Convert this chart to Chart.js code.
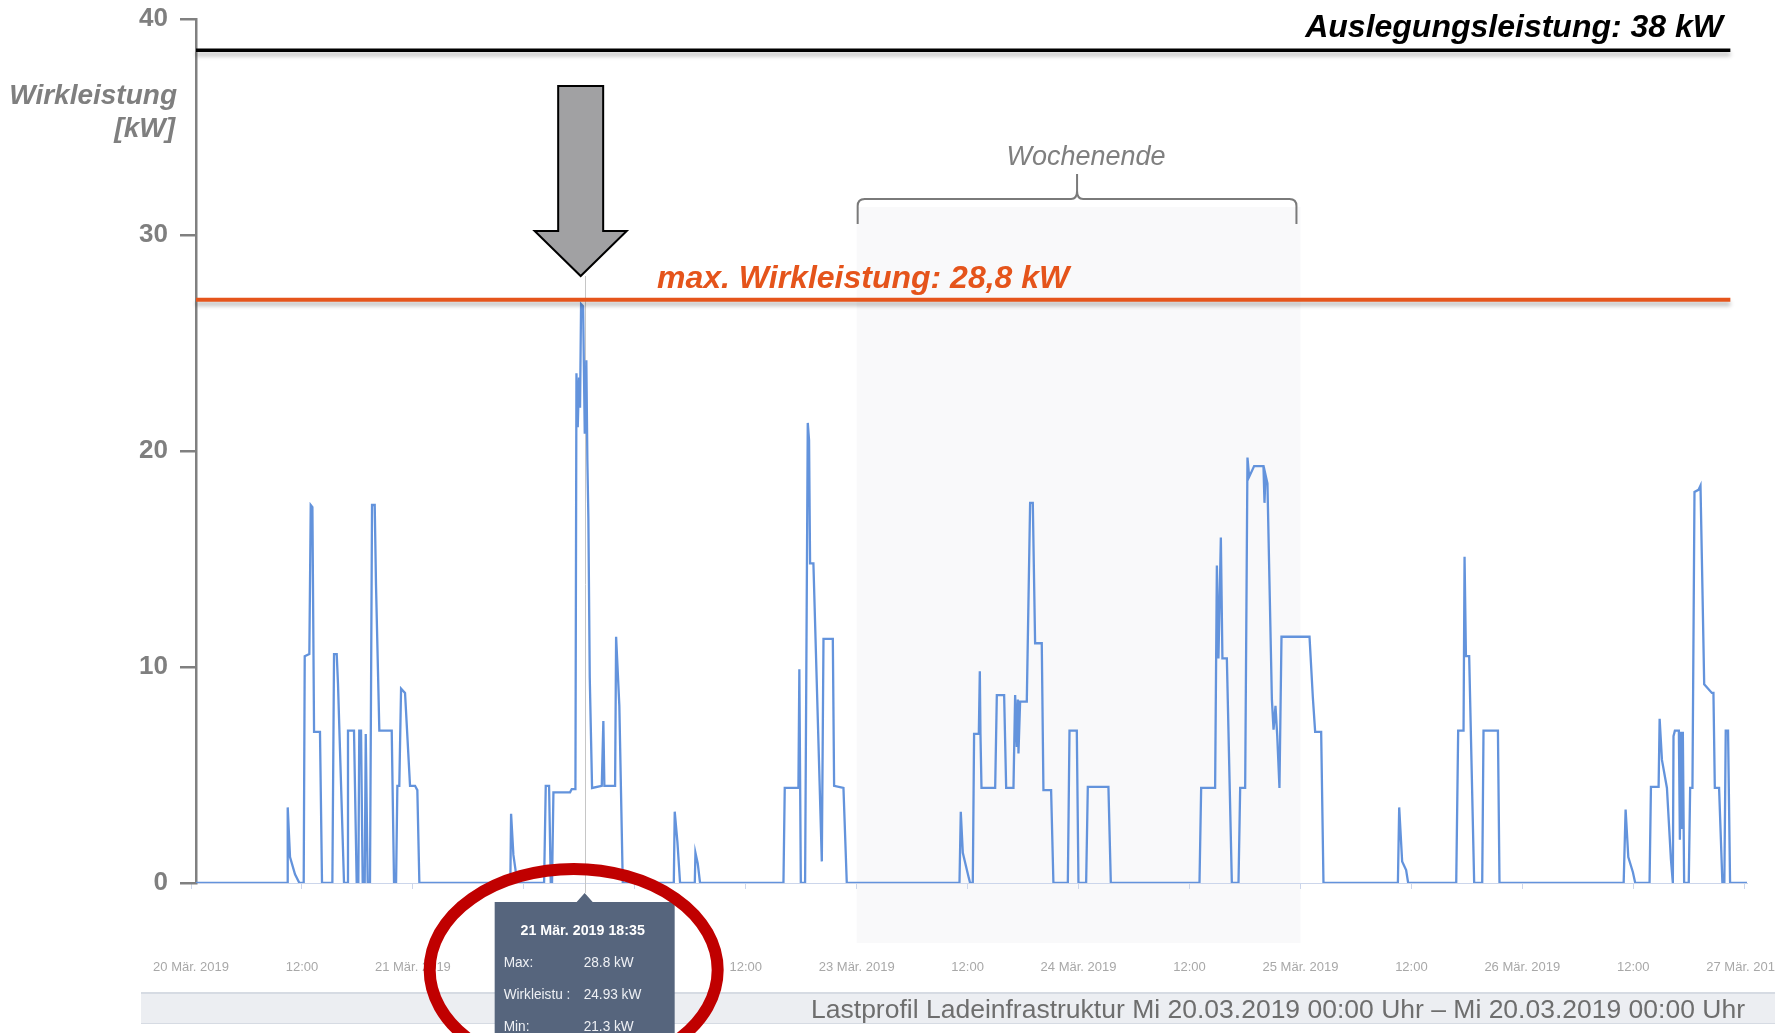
<!DOCTYPE html>
<html>
<head>
<meta charset="utf-8">
<title>Lastprofil Ladeinfrastruktur</title>
<script src="https://cdn.jsdelivr.net/npm/chart.js@4.4.1/dist/chart.umd.min.js"></script>
<style>
  html, body { margin: 0; padding: 0; background: #fff; }
  #wrap { width: 1775px; height: 1033px; position: relative; }
</style>
</head>
<body>
<div id="wrap"><canvas id="lastprofil" width="1775" height="1033"></canvas></div>
<script>
// Zeit in Stunden ab Mi 20.03.2019 00:00, Leistung in kW
const loadHours = [
    0.54, 10.39, 10.46, 10.71, 11.25, 11.72,
    12.19, 12.30, 12.80, 12.95, 13.13, 13.31, 13.95, 14.17,
    15.29, 15.47, 15.76, 15.90, 16.55,
    16.88, 16.98, 17.63, 17.92, 18.10, 18.20, 18.39, 18.57, 18.79, 18.90, 19.11,
    19.36, 19.58, 19.87, 20.01, 20.37, 21.71, 21.96,
    22.18, 22.32, 22.53, 22.72, 23.15, 23.69, 24.23, 24.48, 24.70,
    34.54, 34.62, 34.87, 35.30,
    38.19, 38.37, 38.73, 38.91, 39.05, 39.20, 41.00, 41.18, 41.58,
    41.69, 41.83, 41.97, 42.08, 42.19, 42.41, 42.59, 42.76, 42.87, 42.98, 43.13, 43.38,
    44.43, 44.60, 44.71, 45.87, 45.98, 46.33, 46.70,
    52.22, 52.32, 52.61, 52.90,
    54.49, 54.56, 54.81, 55.06,
    64.08, 64.22, 65.70, 65.80, 65.96, 66.42, 66.71, 66.85, 66.96, 67.32, 68.23, 68.41, 69.42, 69.56, 70.57, 70.93,
    83.12, 83.26, 83.48, 84.09, 84.27,
    84.56, 84.70, 85.21, 85.32, 85.39, 85.50, 86.98, 87.16, 87.95, 88.17, 88.96, 89.14, 89.32, 89.43, 89.50, 89.68, 90.40, 90.76, 91.05, 91.30, 92.02, 92.20, 93.03, 93.28,
    94.84, 95.02, 95.81, 95.99,
    96.82, 97.00, 99.23, 99.49,
    109.08, 109.26, 110.77, 110.96, 111.13, 111.39, 111.56, 112.04, 112.58,
    113.30, 113.48, 114.02, 114.27, 114.45, 114.99, 116.00, 116.11, 116.22, 116.43, 116.91, 117.09, 117.30, 117.49, 117.73, 117.95, 120.98, 121.34, 121.59, 122.24, 122.49,
    130.54, 130.68, 131.00, 131.43, 131.65,
    136.85, 137.06, 137.64, 137.75, 137.90, 138.25, 138.79,
    139.66, 139.80, 141.36, 141.53,
    154.96, 155.17, 155.46, 155.96, 156.21,
    157.76, 157.91, 158.74, 158.85, 159.10, 159.64, 160.07, 160.28, 160.35, 160.50, 160.93, 161.04, 161.15, 161.25, 161.36, 161.50,
    162.00, 162.15, 162.40, 162.62, 163.05, 163.27, 163.42, 163.67, 164.50, 164.67, 164.82, 165.28, 165.64,
    165.85, 166.00, 166.25, 166.47, 168.30
];
const loadKw = [
    0, 0, 3.5, 1.2, 0.4, 0,
    0, 10.5, 10.6, 17.5, 17.4, 7.0, 7.0, 0,
    0, 10.6, 10.6, 9.2, 0,
    0, 7.05, 7.05, 0, 0, 7.05, 7.05, 0, 0, 6.9, 0,
    0, 17.5, 17.5, 13.8, 7.05, 7.05, 0,
    0, 4.5, 4.5, 9.0, 8.8, 4.5, 4.5, 4.3, 0,
    0, 3.2, 1.3, 0,
    0, 4.5, 4.5, 0, 0, 4.2, 4.2, 4.35, 4.35,
    23.6, 21.1, 23.4, 22.0, 26.8, 26.7, 20.8, 24.2, 19.6, 16.9, 9.5, 4.4,
    4.5, 7.5, 4.5, 4.5, 11.4, 8.2, 0,
    0, 3.3, 1.9, 0,
    0, 1.4, 0.9, 0,
    0, 4.4, 4.4, 9.9, 0, 0, 21.3, 20.5, 14.8, 14.8, 1.0, 11.3, 11.3, 4.5, 4.4, 0,
    0, 3.3, 1.4, 0.3, 0,
    0, 6.9, 6.9, 9.8, 6.9, 4.4, 4.4, 8.7, 8.7, 4.4, 4.4, 8.7, 6.3, 8.5, 6.0, 8.4, 8.4, 17.6, 17.6, 11.1, 11.1, 4.3, 4.3, 0,
    0, 7.05, 7.05, 0,
    0, 4.45, 4.45, 0,
    0, 4.4, 4.4, 14.7, 10.4, 16.0, 10.4, 10.4, 0,
    0, 4.4, 4.4, 19.7, 18.8, 19.3, 19.3, 17.6, 18.9, 18.5, 8.5, 7.1, 8.2, 6.8, 4.4, 11.4, 11.4, 8.6, 7.0, 7.0, 0,
    0, 3.5, 1.0, 0.6, 0,
    0, 7.05, 7.05, 15.1, 10.5, 10.5, 0,
    0, 7.05, 7.05, 0,
    0, 3.4, 1.2, 0.5, 0,
    0, 4.45, 4.45, 7.6, 5.7, 4.4, 1.1, 0, 6.8, 7.05, 7.05, 2.0, 7.0, 2.5, 7.0, 0,
    0, 4.4, 4.4, 18.1, 18.2, 18.4, 15.0, 9.2, 8.8, 8.8, 4.4, 4.4, 0,
    0, 7.05, 7.05, 0, 0
];

const xTickHours = [0, 12, 24, 36, 48, 60, 72, 84, 96, 108, 120, 132, 144, 156, 168];
const xTickLabels = ['20 Mär. 2019', '12:00', '21 Mär. 2019', '12:00', '22 Mär. 2019', '12:00', '23 Mär. 2019', '12:00',
    '24 Mär. 2019', '12:00', '25 Mär. 2019', '12:00', '26 Mär. 2019', '12:00', '27 Mär. 2019'];
const yTicks = [0, 10, 20, 30, 40];

// Hilfslinien, wie sie im Bild liegen
const designLineKw = 38.55;
const maxLineKw = 27.0;
const refLineEndHour = 166.5;
const weekendHours = [72, 120];
const weekendTopKw = 31.3;
const tooltipHour = 42.58;
const tooltipTitle = '21 Mär. 2019 18:35';
const tooltipRows = [['Max:', '28.8 kW'], ['Wirkleistu :', '24.93 kW'], ['Min:', '21.3 kW']];

const FONT = "'Liberation Sans', Arial, Helvetica, sans-serif";

function squeezeText(ctx, text, px, py, sx) {
    ctx.save();
    ctx.translate(px, py);
    ctx.scale(sx, 1);
    ctx.fillText(text, 0, 0);
    ctx.restore();
}

const overlay = {
    id: 'overlay',
    beforeDraw(chart) {
        const { ctx, chartArea, scales: { x, y } } = chart;
        // Wochenende hinterlegt
        const x0 = x.getPixelForValue(weekendHours[0]);
        const x1 = x.getPixelForValue(weekendHours[1]);
        const top = y.getPixelForValue(weekendTopKw);
        ctx.save();
        ctx.fillStyle = '#f9f9fa';
        ctx.fillRect(x0, top, x1 - x0, chartArea.bottom + 60 - top);
        ctx.restore();
    },
    beforeDatasetsDraw(chart) {
        const { ctx, chartArea, scales: { x } } = chart;
        // crosshair
        const cx = Math.round(x.getPixelForValue(tooltipHour)) + 0.5;
        ctx.save();
        ctx.strokeStyle = '#c6c6c6';
        ctx.lineWidth = 1;
        ctx.beginPath();
        ctx.moveTo(cx, 276);
        ctx.lineTo(cx, chartArea.bottom + 10);
        ctx.stroke();
        ctx.restore();
    },
    afterDraw(chart) {
        const { ctx, chartArea, scales: { x, y } } = chart;
        const lineEnd = x.getPixelForValue(refLineEndHour);

        // Auslegungsleistung + max. Wirkleistung
        ctx.save();
        ctx.shadowColor = 'rgba(0,0,0,0.28)';
        ctx.shadowBlur = 4;
        ctx.shadowOffsetY = 4;
        ctx.lineWidth = 3.5;
        ctx.strokeStyle = '#000';
        let ly = y.getPixelForValue(designLineKw);
        ctx.beginPath(); ctx.moveTo(chartArea.left, ly); ctx.lineTo(lineEnd, ly); ctx.stroke();
        ctx.lineWidth = 4;
        ctx.strokeStyle = '#e5541b';
        ly = y.getPixelForValue(maxLineKw);
        ctx.beginPath(); ctx.moveTo(chartArea.left, ly); ctx.lineTo(lineEnd, ly); ctx.stroke();
        ctx.restore();

        ctx.save();
        ctx.font = 'italic bold 32px ' + FONT;
        ctx.textBaseline = 'alphabetic';
        ctx.textAlign = 'right';
        ctx.fillStyle = '#000';
        ctx.fillText('Auslegungsleistung: 38 kW', 1723, 37);
        ctx.textAlign = 'left';
        ctx.fillStyle = '#e5541b';
        ctx.fillText('max. Wirkleistung: 28,8 kW', 657, 288);

        // Achsentitel
        ctx.font = 'italic bold 28px ' + FONT;
        ctx.fillStyle = '#7f7f7f';
        ctx.textAlign = 'right';
        ctx.fillText('Wirkleistung', 177, 104);
        ctx.fillText('[kW]', 175, 137);
        ctx.restore();

        // Klammer Wochenende
        const bx0 = x.getPixelForValue(weekendHours[0]) + 1;
        const bx1 = x.getPixelForValue(weekendHours[1]) - 4;
        const bm = (bx0 + bx1) / 2;
        ctx.save();
        ctx.strokeStyle = '#7a7a7a';
        ctx.lineWidth = 2;
        ctx.beginPath();
        ctx.moveTo(bx0, 224);
        ctx.lineTo(bx0, 206);
        ctx.quadraticCurveTo(bx0, 199, bx0 + 7, 199);
        ctx.lineTo(bm - 6, 199);
        ctx.quadraticCurveTo(bm, 199, bm, 191);
        ctx.lineTo(bm, 174);
        ctx.moveTo(bm, 191);
        ctx.quadraticCurveTo(bm, 199, bm + 6, 199);
        ctx.lineTo(bx1 - 7, 199);
        ctx.quadraticCurveTo(bx1, 199, bx1, 206);
        ctx.lineTo(bx1, 224);
        ctx.stroke();
        ctx.font = 'italic 27px ' + FONT;
        ctx.fillStyle = '#7f7f7f';
        ctx.textAlign = 'center';
        ctx.fillText('Wochenende', bm + 9, 165);
        ctx.restore();

        // Pfeil auf das Maximum
        const ax = x.getPixelForValue(tooltipHour) - 4;
        ctx.save();
        ctx.fillStyle = '#a1a1a3';
        ctx.strokeStyle = '#000';
        ctx.lineWidth = 2;
        ctx.lineJoin = 'miter';
        ctx.beginPath();
        ctx.moveTo(ax - 22.5, 86);
        ctx.lineTo(ax + 22.5, 86);
        ctx.lineTo(ax + 22.5, 231);
        ctx.lineTo(ax + 46, 231);
        ctx.lineTo(ax, 276);
        ctx.lineTo(ax - 46, 231);
        ctx.lineTo(ax - 22.5, 231);
        ctx.closePath();
        ctx.fill();
        ctx.stroke();
        ctx.restore();

        // Fußzeile
        ctx.save();
        ctx.fillStyle = '#eceef2';
        ctx.fillRect(141, 993, chart.width - 141, 31);
        ctx.fillStyle = '#d6dbe3';
        ctx.fillRect(141, 992, chart.width - 141, 2);
        ctx.fillRect(141, 1023, chart.width - 141, 1);
        ctx.font = '26.5px ' + FONT;
        ctx.fillStyle = '#6e6e6e';
        ctx.textAlign = 'right';
        ctx.textBaseline = 'alphabetic';
        ctx.fillText('Lastprofil Ladeinfrastruktur Mi 20.03.2019 00:00 Uhr \u2013 Mi 20.03.2019 00:00 Uhr', 1745, 1018);
        ctx.restore();

        // Tooltip
        const tx = x.getPixelForValue(tooltipHour);
        ctx.save();
        ctx.fillStyle = '#56657d';
        ctx.beginPath();
        ctx.moveTo(tx - 90, 902);
        ctx.lineTo(tx - 8, 902);
        ctx.lineTo(tx, 893);
        ctx.lineTo(tx + 8, 902);
        ctx.lineTo(tx + 90, 902);
        ctx.lineTo(tx + 90, chart.height + 5);
        ctx.lineTo(tx - 90, chart.height + 5);
        ctx.closePath();
        ctx.fill();
        ctx.fillStyle = '#ffffff';
        ctx.textAlign = 'center';
        ctx.font = 'bold 15px ' + FONT;
        squeezeText(ctx, tooltipTitle, tx - 2, 935, 0.95);
        ctx.textAlign = 'left';
        ctx.font = '15.5px ' + FONT;
        ctx.fillStyle = '#eef0f4';
        tooltipRows.forEach((row, i) => {
            const ry = 967 + i * 32;
            squeezeText(ctx, row[0], tx - 81, ry, 0.88);
            squeezeText(ctx, row[1], tx - 1, ry, 0.88);
        });
        ctx.restore();

        // rote Markierung
        ctx.save();
        ctx.strokeStyle = '#c00000';
        ctx.lineWidth = 12;
        ctx.beginPath();
        ctx.ellipse(tx - 11, 970, 144, 101, 0, 0, Math.PI * 2);
        ctx.stroke();
        ctx.restore();
    }
};

new Chart(document.getElementById('lastprofil'), {
    type: 'line',
    data: {
        datasets: [{
            label: 'Wirkleistung',
            data: loadHours.map((h, i) => ({ x: h, y: loadKw[i] })),
            borderColor: '#6393dc',
            borderWidth: 2.3,
            pointRadius: 0,
            tension: 0,
            fill: false
        }]
    },
    options: {
        responsive: false,
        animation: false,
        events: [],
        layout: { padding: { top: 19, right: 28, bottom: 0, left: 0 } },
        plugins: {
            legend: { display: false },
            tooltip: { enabled: false }
        },
        scales: {
            x: {
                type: 'linear',
                min: 0.54,
                max: 168.3,
                afterBuildTicks: (scale) => {
                    scale.ticks = xTickHours.map(v => ({ value: v }));
                },
                afterFit: (scale) => {
                    scale.height = 150;
                    scale.paddingLeft = 0;
                    scale.paddingRight = 0;
                },
                ticks: {
                    autoSkip: false,
                    maxRotation: 0,
                    minRotation: 0,
                    padding: 71,
                    color: '#a8a8a8',
                    font: { family: FONT, size: 13 },
                    callback: (value, index) => xTickLabels[index]
                },
                grid: { drawOnChartArea: false, drawTicks: true, tickLength: 6, color: '#ccd6eb' },
                border: { display: true, color: '#ccd6eb', width: 1 }
            },
            y: {
                min: 0,
                max: 40,
                afterBuildTicks: (scale) => {
                    scale.ticks = yTicks.map(v => ({ value: v }));
                },
                afterFit: (scale) => {
                    scale.width = 196;
                    scale.paddingTop = 0;
                    scale.paddingBottom = 0;
                },
                ticks: {
                    padding: 12,
                    color: '#7f7f7f',
                    font: { family: FONT, size: 26, weight: 'bold' }
                },
                grid: { drawOnChartArea: false, tickLength: 16, color: '#808080', lineWidth: 2.5 },
                border: { display: true, color: '#808080', width: 2.5 }
            }
        }
    },
    plugins: [overlay]
});
</script>
</body>
</html>
